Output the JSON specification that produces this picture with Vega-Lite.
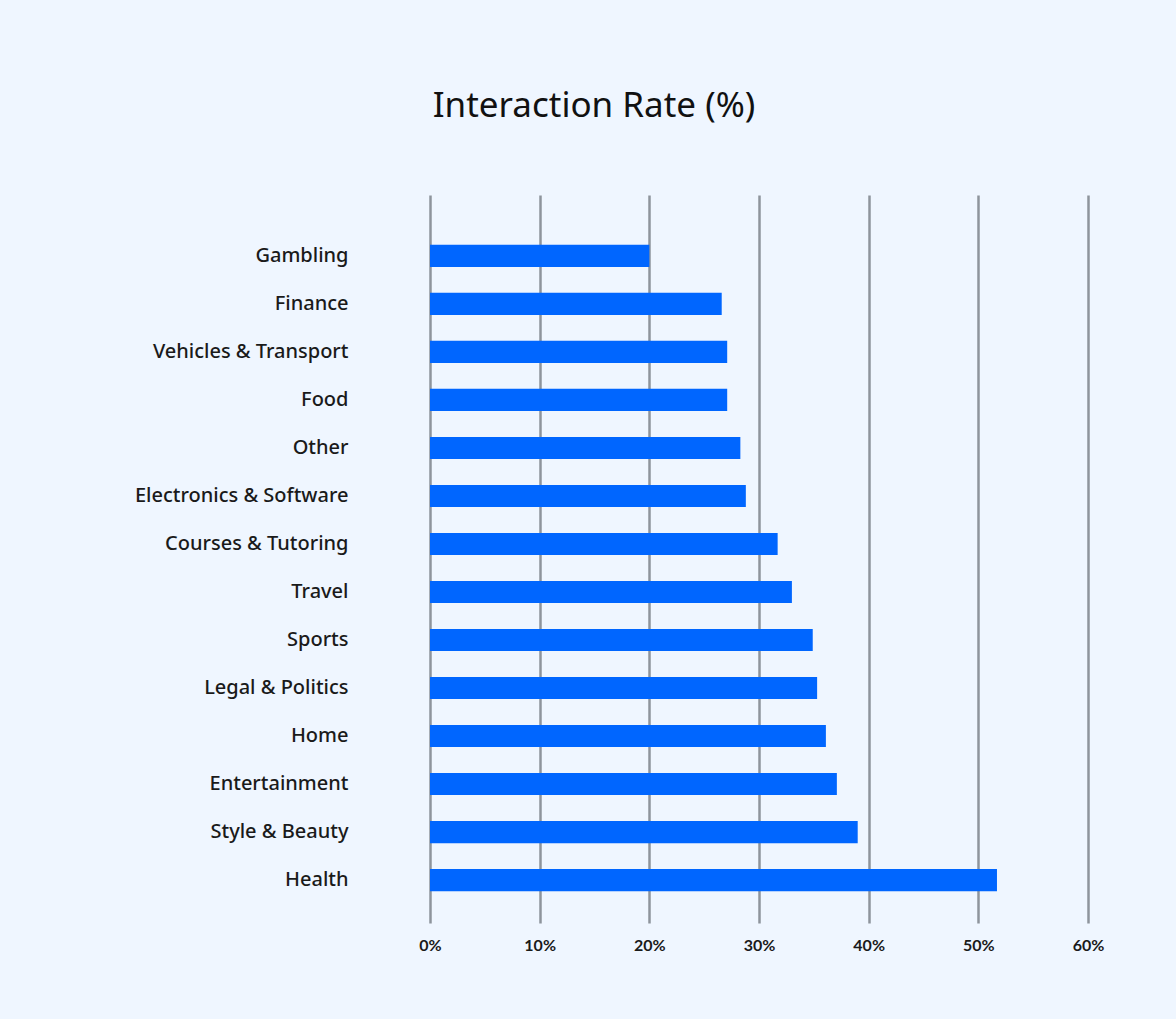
{
  "$schema": "https://vega.github.io/schema/vega-lite/v6.json",
  "autosize": {"type": "none"},
  "width": 658,
  "height": 728,
  "padding": {"left": 430, "top": 195, "right": 88, "bottom": 96},
  "background": "#EFF6FF",
  "title": {
    "text": "Interaction Rate (%)",
    "anchor": "middle",
    "frame": "group",
    "dx": -165,
    "offset": 71,
    "font": "Noto Sans",
    "fontSize": 35,
    "fontWeight": 400,
    "color": "#111111"
  },
  "data": {
    "values": [
      {"category": "Gambling", "rate": 20.0},
      {"category": "Finance", "rate": 26.6},
      {"category": "Vehicles & Transport", "rate": 27.1},
      {"category": "Food", "rate": 27.1},
      {"category": "Other", "rate": 28.3},
      {"category": "Electronics & Software", "rate": 28.8},
      {"category": "Courses & Tutoring", "rate": 31.7},
      {"category": "Travel", "rate": 33.0},
      {"category": "Sports", "rate": 34.9},
      {"category": "Legal & Politics", "rate": 35.3},
      {"category": "Home", "rate": 36.1},
      {"category": "Entertainment", "rate": 37.1},
      {"category": "Style & Beauty", "rate": 39.0},
      {"category": "Health", "rate": 51.7}
    ]
  },
  "mark": {"type": "bar", "color": "#0066FF"},
  "encoding": {
    "y": {
      "field": "category",
      "type": "nominal",
      "sort": null,
      "scale": {"paddingInner": 0.54, "paddingOuter": 0.85, "align": 0.61},
      "axis": {
        "title": null,
        "domain": false,
        "ticks": false,
        "grid": false,
        "labelPadding": 82,
        "labelLimit": 400,
        "labelFont": "Noto Sans",
        "labelFontSize": 20,
        "labelFontWeight": 500,
        "labelColor": "#1a1a1a"
      }
    },
    "x": {
      "field": "rate",
      "type": "quantitative",
      "scale": {"domain": [0, 60], "nice": false},
      "axis": {
        "title": null,
        "values": [0, 10, 20, 30, 40, 50, 60],
        "labelExpr": "datum.value + '%'",
        "labelFlush": false,
        "domain": false,
        "ticks": false,
        "grid": true,
        "gridColor": "#8E949C",
        "gridWidth": 2.5,
        "gridOpacity": 1,
        "labelPadding": 14,
        "labelFont": "Lato",
        "labelFontSize": 16,
        "labelFontWeight": 700,
        "labelColor": "#1a1a1a"
      }
    }
  },
  "config": {
    "view": {"stroke": null}
  }
}
